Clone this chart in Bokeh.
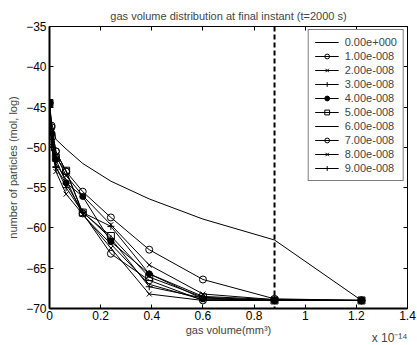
from bokeh.plotting import figure
from bokeh.models import LinearAxis, FixedTicker, Span, Title, Legend, LegendItem, Range1d
from bokeh.embed import file_html
from bokeh.resources import INLINE

# gas volume (in units of 1e-14 mm^3)
volume = [0.0, 0.008, 0.025, 0.065, 0.13, 0.24, 0.39, 0.60, 0.88, 1.22]

series_labels = ["0.00e+000", "1.00e-008", "2.00e-008", "3.00e-008", "4.00e-008",
                 "5.00e-008", "6.00e-008", "7.00e-008", "8.00e-008", "9.00e-008"]

s0 = [-44.5, -46.9, -49.0, -50.2, -52.0, -54.2, -56.4, -58.9, -61.5, -69.0]
s1 = [-44.5, -47.5, -50.5, -53.0, -55.5, -58.7, -62.7, -66.4, -68.8, -69.0]
s2 = [-44.5, -48.0, -51.0, -53.5, -56.0, -59.6, -64.6, -68.2, -68.9, -69.0]
s3 = [-44.5, -48.5, -52.4, -55.0, -58.1, -59.8, -65.7, -68.5, -68.9, -69.0]
s4 = [-44.5, -48.2, -51.5, -54.4, -56.1, -61.7, -65.7, -68.8, -69.0, -69.0]
s5 = [-44.5, -48.6, -51.3, -52.9, -58.1, -61.0, -66.1, -68.6, -69.0, -69.0]
s6 = [-44.5, -49.0, -52.0, -54.0, -58.4, -62.0, -67.0, -68.9, -69.0, -69.0]
s7 = [-44.5, -47.3, -50.5, -53.0, -58.2, -63.2, -66.5, -69.0, -69.0, -69.0]
s8 = [-44.5, -49.8, -53.0, -55.8, -58.3, -62.5, -68.2, -69.0, -69.0, -69.0]
s9 = [-44.5, -50.0, -52.5, -54.5, -58.0, -61.3, -67.3, -68.7, -69.0, -69.0]
series = [s0, s1, s2, s3, s4, s5, s6, s7, s8, s9]

markers = [None, "circle", "x", "cross", "dot_fill", "square", None, "circle", "x", "cross"]

x_ticks = [0, 0.2, 0.4, 0.6, 0.8, 1.0, 1.2, 1.4]
x_tick_labels = ["0", "0.2", "0.4", "0.6", "0.8", "1", "1.2", "1.4"]
y_ticks = [-70, -65, -60, -55, -50, -45, -40, -35]
mark_volume = 0.88

FONT = "Liberation Sans"

p = figure(width=417, height=345, output_backend="svg", toolbar_location=None,
           x_range=Range1d(0, 1.4), y_range=Range1d(-70, -35),
           min_border_left=49, min_border_right=10, min_border_top=26, min_border_bottom=37)
p.title.text = "gas volume distribution at final instant (t=2000 s)"
p.title.align = "center"
p.title.text_font = FONT
p.title.text_font_size = "11px"
p.title.text_font_style = "normal"
p.title.offset = 0
p.grid.visible = False
p.outline_line_color = "black"
p.outline_line_width = 1
p.background_fill_color = "white"
p.border_fill_color = "white"

p.xaxis.ticker = FixedTicker(ticks=x_ticks)
p.xaxis.major_label_overrides = {t: l for t, l in zip(x_ticks, x_tick_labels)}
p.yaxis.ticker = FixedTicker(ticks=y_ticks)
p.yaxis.major_label_overrides = {t: ("\u2212%d" % abs(t)) for t in y_ticks}
for ax in (p.xaxis[0], p.yaxis[0]):
    ax.major_tick_in = 4
    ax.major_tick_out = 0
    ax.minor_tick_in = 0
    ax.minor_tick_out = 0
    ax.axis_line_width = 2
    ax.major_label_text_font = FONT
    ax.major_label_text_font_size = "12px"
    ax.major_label_text_color = "black"
    ax.axis_label_text_font = FONT
    ax.axis_label_text_font_size = "11px"
    ax.axis_label_text_font_style = "normal"
p.xaxis.axis_label = "gas volume(mm\u00b3)"
p.xaxis.axis_label_standoff = 1
p.xaxis.major_label_standoff = 2
p.yaxis.axis_label = "number of particles (mol, log)"
p.yaxis.axis_label_standoff = 4
p.yaxis.major_label_standoff = 3

for loc, tk in (("right", y_ticks), ("above", x_ticks)):
    ax = LinearAxis(ticker=FixedTicker(ticks=tk), major_tick_in=4, major_tick_out=0,
                    minor_tick_in=0, minor_tick_out=0,
                    major_label_overrides={t: "" for t in tk},
                    major_label_standoff=0, axis_line_width=1)
    p.add_layout(ax, loc)

items = []
for lab, ys, mk in zip(series_labels, series, markers):
    rs = [p.line(volume, ys, line_color="black", line_width=1)]
    if mk == "dot_fill":
        rs.append(p.scatter(volume, ys, marker="circle", size=6, line_color="black",
                            fill_color="black"))
    elif mk is not None:
        rs.append(p.scatter(volume, ys, marker=mk, size=7, line_color="black",
                            fill_alpha=0, line_width=1))
    items.append(LegendItem(label=lab, renderers=rs))

p.add_layout(Span(location=mark_volume, dimension="height", line_color="black",
                  line_dash="5 3", line_width=2))

legend = Legend(items=items, location="top_right", label_text_font=FONT,
                label_text_font_size="11px", label_height=12, glyph_height=12,
                glyph_width=24, label_standoff=6, spacing=2, padding=6, margin=3,
                border_line_color="black", border_line_width=1.5,
                background_fill_alpha=1)
p.add_layout(legend)

scale_title = Title(text="x 10\u207b\u00b9\u2074", align="right", text_font=FONT,
                    text_font_size="12px", text_font_style="normal", standoff=-16,
                    vertical_align="top", offset=0)
p.add_layout(scale_title, "below")

open("out.html", "w").write(file_html(p, INLINE))
